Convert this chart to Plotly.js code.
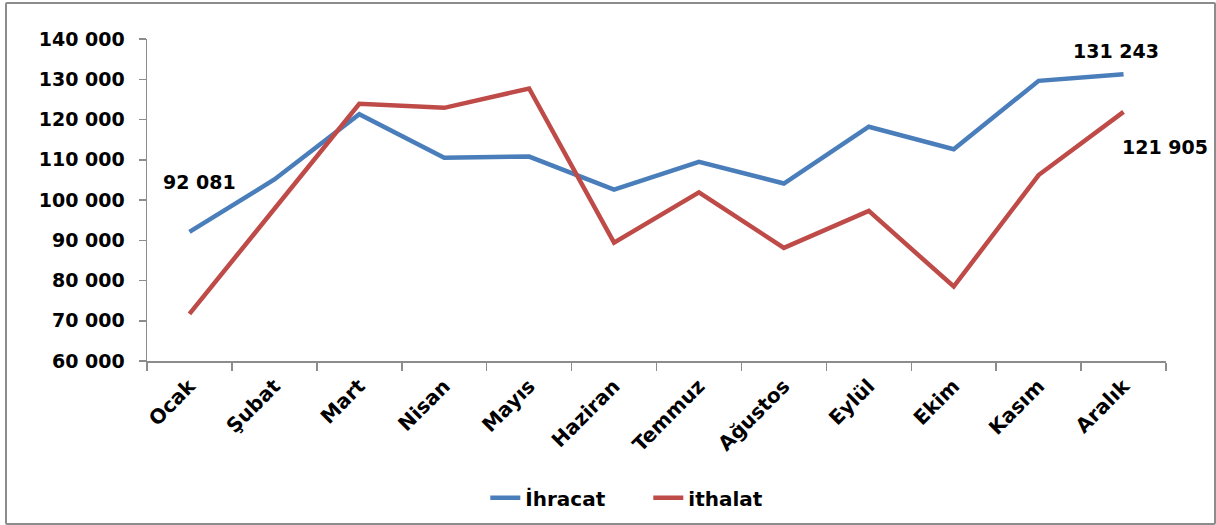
<!DOCTYPE html>
<html>
<head>
<meta charset="utf-8">
<script src="https://cdn.plot.ly/plotly-3.0.1.min.js"></script>
<style>
html,body{margin:0;padding:0;background:#fff;}
#wrap{position:relative;width:1216px;height:525px;}
#chart{position:absolute;left:0;top:0;width:1216px;height:525px;}
#frame{position:absolute;left:5px;top:2px;width:1207px;height:519px;border:2px solid #8c8c8c;border-radius:2px;pointer-events:none;}
</style>
</head>
<body>
<div id="wrap"><div id="chart"></div><div id="frame"></div></div>
<script>
const months = ["Ocak","Şubat","Mart","Nisan","Mayıs","Haziran","Temmuz","Ağustos","Eylül","Ekim","Kasım","Aralık"];
const ihracat = [92081,105100,121300,110500,110800,102600,109500,104100,118200,112600,129600,131243];
const ithalat = [71700,97600,123900,122900,127700,89400,101900,88100,97300,78500,106200,121905];
const seriesNames = ["İhracat","ithalat"];
const yTicks = [60000,70000,80000,90000,100000,110000,120000,130000,140000];

const FONT = "DejaVu Sans, Liberation Sans, sans-serif";
const fmt = v => String(v).replace(/\B(?=(\d{3})+(?!\d))/g, " ");

const traces = [
  {x: months, y: ihracat, name: seriesNames[0], type: "scatter", mode: "lines",
   line: {color: "#4A7EBB", width: 4.5}},
  {x: months, y: ithalat, name: seriesNames[1], type: "scatter", mode: "lines",
   line: {color: "#BE4B48", width: 4.5}}
];

const last = months.length - 1;
const annotations = [
  {x: months[0], y: ihracat[0], text: fmt(ihracat[0]), xshift: 10, yshift: 50},
  {x: months[last], y: ihracat[last], text: fmt(ihracat[last]), xshift: -8, yshift: 23},
  {x: months[last], y: ithalat[last], text: fmt(ithalat[last]), xshift: 41, yshift: -35}
].map(a => Object.assign(a, {xref: "x", yref: "y", showarrow: false,
  font: {family: FONT, size: 19, color: "#000", weight: "bold"}}));

const layout = {
  width: 1216, height: 525,
  margin: {l: 147, r: 50, t: 39, b: 164, pad: 0, autoexpand: false},
  paper_bgcolor: "#fff", plot_bgcolor: "#fff",
  showlegend: true,
  legend: {orientation: "h", x: 0.332, xanchor: "left", y: -0.425, yanchor: "middle",
    entrywidth: 118, entrywidthmode: "pixels",
    font: {family: FONT, size: 20, color: "#000", weight: "bold"}, tracegroupgap: 0},
  xaxis: {type: "category", showgrid: false, zeroline: false, automargin: false,
    showline: true, linecolor: "#8c8c8c", linewidth: 1.5,
    ticks: "outside", tickson: "boundaries", ticklen: 8, tickcolor: "#8c8c8c", tickwidth: 1.5,
    ticklabelstandoff: 4,
    tickangle: -45, tickfont: {family: FONT, size: 20, color: "#000", weight: "bold"},
    range: [-0.5, 11.5]},
  yaxis: {range: [60000, 140000], tickvals: yTicks, ticktext: yTicks.map(fmt),
    showgrid: false, zeroline: false, automargin: false,
    showline: true, linecolor: "#8c8c8c", linewidth: 1.5,
    ticks: "outside", ticklen: 7, tickcolor: "#8c8c8c", tickwidth: 1.5,
    ticklabelstandoff: 10,
    tickfont: {family: FONT, size: 19, color: "#000", weight: "bold"}},
  annotations: annotations
};

Plotly.newPlot("chart", traces, layout, {displayModeBar: false, staticPlot: true});
</script>
</body>
</html>
